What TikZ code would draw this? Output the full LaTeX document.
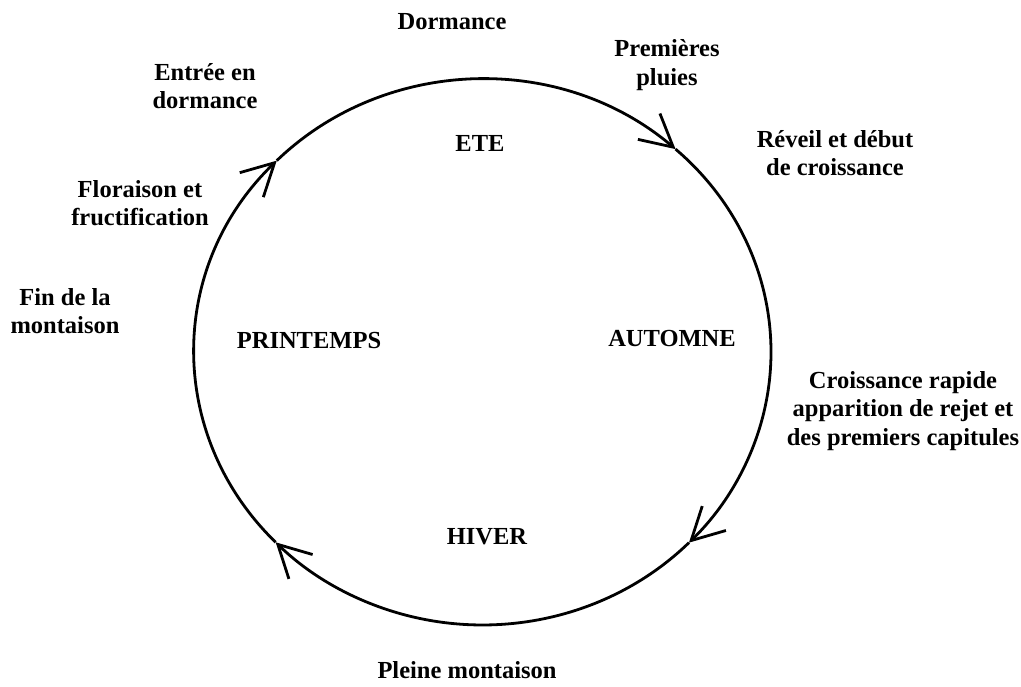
\documentclass[tikz,border=0pt]{standalone}
\usepackage{fontspec}
\setmainfont{Liberation Serif}
\usetikzlibrary{arrows.meta,calc}
\tikzset{
  lbl/.style={align=center, inner sep=0pt, font=\bfseries\fontsize{24.5}{28.5}\selectfont},
  cyc/.style={line width=2.8pt, -{Straight Barb[length=32pt, width=34pt, line width=2.8pt]}},
}
\begin{document}
\begin{tikzpicture}[x=1pt, y=1pt]
\fill[white] (0,0) rectangle (1021,687);
\useasboundingbox (0,0) rectangle (1021,687);
\coordinate (c) at (482.5,335);
% points on the cycle
\coordinate (a1) at ($(c)+(48:288.5pt and 273pt)$);
\coordinate (a2) at ($(c)+(-44.3:288.5pt and 273pt)$);
\coordinate (a3) at ($(c)+(-135.8:288.5pt and 273pt)$);
\coordinate (a4) at ($(c)+(135.5:288.5pt and 273pt)$);
\draw[cyc] (a4) arc[start angle=135.5, end angle=48, x radius=288.5pt, y radius=273pt];
\draw[cyc] (a1) arc[start angle=48, end angle=-44.3, x radius=288.5pt, y radius=273pt];
\draw[cyc] (a2) arc[start angle=-44.3, end angle=-135.8, x radius=288.5pt, y radius=273pt];
\draw[cyc] (a3) arc[start angle=224.2, end angle=135.5, x radius=288.5pt, y radius=273pt];
% labels
\node[lbl] (dorm) at (452,665) {Dormance};
\node[lbl] (pluies) at (667,622) {Premières\\pluies};
\node[lbl] (entree) at (205,601) {Entrée en\\dormance};
\node[lbl] (reveil) at (835,534) {Réveil et début\\de croissance};
\node[lbl] (flor) at (140,484) {Floraison et\\fructification};
\node[lbl] (fin) at (65,376) {Fin de la\\montaison};
\node[lbl] (ete) at (480,544) {ETE};
\node[lbl] (print) at (309,346) {PRINTEMPS};
\node[lbl] (aut) at (672,348) {AUTOMNE};
\node[lbl] (crois) at (903,276) {Croissance rapide\\apparition de rejet et\\des premiers capitules};
\node[lbl] (hiver) at (487,150) {HIVER};
\node[lbl] (pleine) at (467,17) {Pleine montaison};
\end{tikzpicture}
\end{document}
